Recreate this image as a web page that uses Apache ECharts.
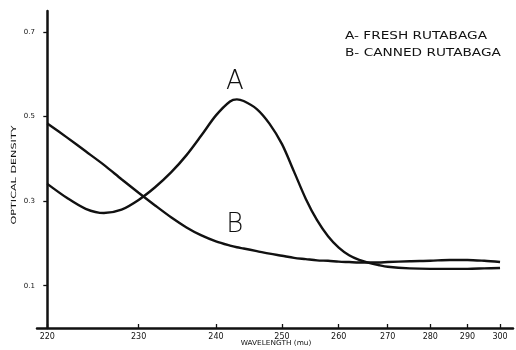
<!DOCTYPE html>
<html>
<head>
<meta charset="utf-8">
<script src="https://cdn.jsdelivr.net/npm/echarts@6/dist/echarts.min.js"></script>
<style>
  html, body { margin: 0; padding: 0; background: #fff; }
  #chart { width: 516px; height: 350px; }
</style>
</head>
<body>
<div id="chart"></div>
<script>
// Absorption spectra of rutabaga extracts (optical density vs wavelength, mu)
const wavelengths = [220, 222, 224, 226, 228, 230, 232, 234, 236, 238, 240, 242, 243, 244, 246, 248, 250,
                     252, 254, 256, 258, 260, 262, 264, 266, 268, 270, 275, 280, 285, 290, 295, 300];
const freshRutabaga = [0.341, 0.308, 0.282, 0.272, 0.280, 0.303, 0.333, 0.368, 0.409, 0.456, 0.503, 0.536, 0.541, 0.537, 0.518, 0.483, 0.435,
                       0.370, 0.306, 0.255, 0.217, 0.190, 0.172, 0.161, 0.154, 0.149, 0.145, 0.141, 0.140, 0.140, 0.140, 0.141, 0.142];
const cannedRutabaga = [0.484, 0.451, 0.418, 0.386, 0.352, 0.320, 0.290, 0.262, 0.238, 0.219, 0.205, 0.195, 0.191, 0.188, 0.182, 0.176, 0.171,
                        0.166, 0.163, 0.160, 0.159, 0.157, 0.156, 0.155, 0.155, 0.155, 0.156, 0.158, 0.159, 0.161, 0.161, 0.159, 0.156];
const xTicks = [220, 230, 240, 250, 260, 270, 280, 290, 300];
const yTicks = [0.1, 0.3, 0.5, 0.7];
const curveLabels = ['A', 'B'];
const legendLines = ['A- FRESH RUTABAGA', 'B- CANNED RUTABAGA'];

// The recorder chart's wavelength scale is compressed toward long wavelengths:
// horizontal position grows as 1 - (220/wavelength)^2.8.
const EXP = 2.8;
const toScale = w => 1000 * (1 - Math.pow(220 / w, EXP));
const fromScale = u => 220 / Math.pow(1 - u / 1000, 1 / EXP);

const INK = '#111';
const chart = echarts.init(document.getElementById('chart'), null, { renderer: 'canvas' });

const pairs = vals => wavelengths.map((w, i) => [toScale(w), vals[i]]);
const letterMark = (txt, w, v) => ({
  symbol: 'circle', symbolSize: 1,
  itemStyle: { color: 'rgba(0,0,0,0)' },
  label: { show: true, position: 'inside', color: INK, fontFamily: 'DejaVu Sans', fontWeight: 200, fontSize: 26 },
  data: [{ coord: [toScale(w), v], value: txt, label: { formatter: txt } }]
});

chart.setOption({
  animation: false,
  backgroundColor: '#fff',
  grid: { left: 37, right: 3, top: 11, bottom: 22, containLabel: false },
  xAxis: {
    type: 'value',
    min: -13.2,
    max: 597,
    splitLine: { show: false },
    axisLine: { show: true, lineStyle: { color: INK, width: 2.5 } },
    axisTick: { show: true, inside: true, length: 4, lineStyle: { color: INK, width: 1.3 }, customValues: xTicks.map(toScale) },
    axisLabel: {
      show: true, margin: 5, color: INK, fontFamily: 'DejaVu Sans', fontSize: 8,
      customValues: xTicks.map(toScale),
      formatter: u => String(Math.round(fromScale(u)))
    }
  },
  yAxis: {
    type: 'value',
    min: 0,
    max: 0.75,
    splitLine: { show: false },
    axisLine: { show: true, lineStyle: { color: INK, width: 2.5 } },
    axisTick: { show: true, inside: false, length: 4, lineStyle: { color: INK, width: 1.3 }, customValues: yTicks },
    axisLabel: {
      show: true, margin: 2, color: INK, fontFamily: 'DejaVu Sans', fontSize: 7,
      customValues: yTicks,
      formatter: v => v.toFixed(1)
    }
  },
  series: [
    {
      name: 'Fresh rutabaga', type: 'line', data: pairs(freshRutabaga),
      smooth: 0.3, showSymbol: false, lineStyle: { color: INK, width: 2.4 },
      markPoint: letterMark(curveLabels[0], 242.7, 0.582)
    },
    {
      name: 'Canned rutabaga', type: 'line', data: pairs(cannedRutabaga),
      smooth: 0.3, showSymbol: false, lineStyle: { color: INK, width: 2.4 },
      markPoint: letterMark(curveLabels[1], 242.7, 0.242)
    }
  ],
  graphic: [
    {
      type: 'text', x: 14, y: 175, rotation: Math.PI / 2, scaleX: 1.6,
      style: { text: 'OPTICAL DENSITY', fill: INK, font: '7px "DejaVu Sans"', align: 'center', verticalAlign: 'middle' }
    },
    {
      type: 'text', x: 276, y: 343, scaleX: 1.05,
      style: { text: 'WAVELENGTH (mu)', fill: INK, font: '7px "DejaVu Sans"', align: 'center', verticalAlign: 'middle' }
    },
    {
      type: 'text', x: 345, y: 36, scaleX: 1.3,
      style: { text: legendLines[0], fill: INK, font: '10.5px "DejaVu Sans"', align: 'left', verticalAlign: 'middle' }
    },
    {
      type: 'text', x: 345, y: 53, scaleX: 1.3,
      style: { text: legendLines[1], fill: INK, font: '10.5px "DejaVu Sans"', align: 'left', verticalAlign: 'middle' }
    }
  ]
});
</script>
</body>
</html>
